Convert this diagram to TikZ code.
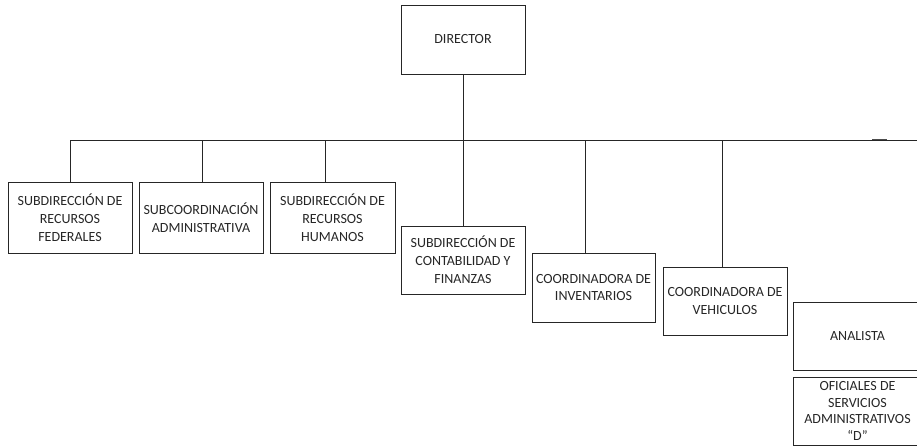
\documentclass[tikz,border=0pt]{standalone}
\usepackage{fontspec}
\setmainfont{Carlito}
\begin{document}
\begin{tikzpicture}[x=0.75pt,y=-0.75pt,
  box/.style={draw=black!85, line width=0.6pt, inner sep=0pt, align=center,
    font=\fontsize{10.5}{13.4}\selectfont, text=black!85},
  tight/.style={font=\fontsize{10.5}{12.4}\selectfont},
  conn/.style={draw=black!85, line width=0.6pt}]
\useasboundingbox (0,0) rectangle (917,446);
\newcommand{\bx}[7][]{\node[box, #1, minimum width={(#5-#3)*0.75pt}, minimum height={(#6-#4)*0.75pt}] (#2) at ({(#3+#5)/2},{(#4+#6)/2}) {#7};}
\bx{dir}{401}{5}{525}{74}{DIRECTOR}
\bx{b1}{8}{182}{132}{253}{SUBDIRECCIÓN DE\\RECURSOS\\FEDERALES}
\bx{b2}{139}{182}{263}{253}{SUBCOORDINACIÓN\\ADMINISTRATIVA}
\bx{b3}{270}{182}{395}{253}{SUBDIRECCIÓN DE\\RECURSOS\\HUMANOS}
\bx{b4}{401}{226}{525}{294}{SUBDIRECCIÓN DE\\CONTABILIDAD Y\\FINANZAS}
\bx{b5}{532}{253}{655}{322}{COORDINADORA DE\\INVENTARIOS}
\bx{b6}{663}{267}{787}{335}{COORDINADORA DE\\VEHICULOS}
\bx{b7}{793}{302}{922}{370}{ANALISTA}
\bx[tight]{b8}{793}{377}{922}{445}{OFICIALES DE\\SERVICIOS\\ADMINISTRATIVOS\\“D”}
\coordinate (barL) at (70,140);
\coordinate (barR) at (917,140);
\coordinate (d1) at (70,140);
\coordinate (d2) at (202,140);
\coordinate (d3) at (325,140);
\coordinate (d5) at (585,140);
\coordinate (d6) at (722,140);
\coordinate (m1) at (872,139.3);
\coordinate (m2) at (887,139.3);
\draw[conn] (barL) -- (barR);
\draw[conn] (dir.south) -- (dir.south |- b4.north);
\draw[conn] (d1) -- (d1 |- b1.north);
\draw[conn] (d2) -- (d2 |- b2.north);
\draw[conn] (d3) -- (d3 |- b3.north);
\draw[conn] (d5) -- (d5 |- b5.north);
\draw[conn] (d6) -- (d6 |- b6.north);
\draw[black!70, line width=1pt] (m1) -- (m2);
\end{tikzpicture}
\end{document}
